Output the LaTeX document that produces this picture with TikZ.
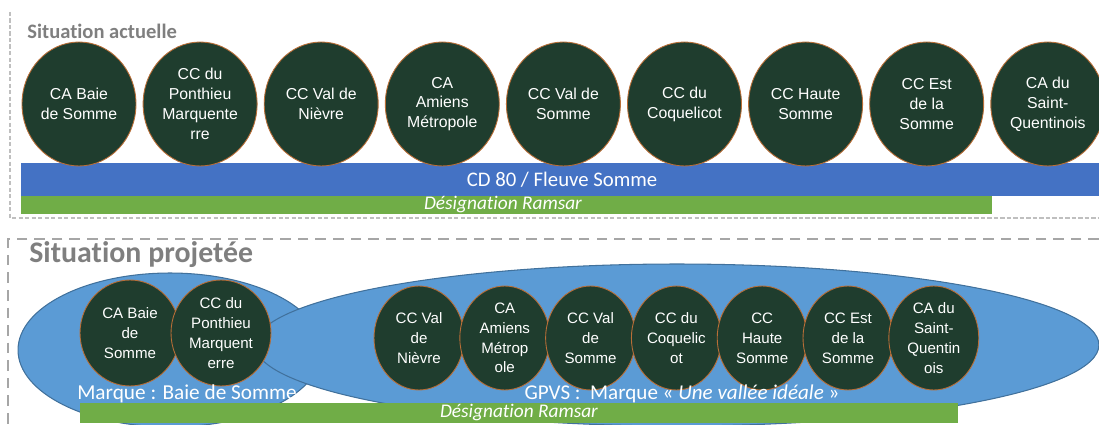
\documentclass[tikz,border=0pt]{standalone}
\usepackage{fontspec}
\setmainfont{Carlito}[Ligatures=NoCommon]
\newfontfamily\arialfont{Liberation Sans}
\usetikzlibrary{shapes.geometric}
\definecolor{forestdark}{RGB}{31,61,46}
\definecolor{rimbrown}{RGB}{185,110,55}
\definecolor{barblue}{RGB}{68,114,196}
\definecolor{bargreen}{RGB}{112,173,71}
\definecolor{zoneblue}{RGB}{91,155,213}
\definecolor{zoneedge}{RGB}{65,113,156}
\definecolor{titlegray}{RGB}{127,127,127}
\tikzset{
    % Circle styles
    town/.style={
        ellipse,
        draw=rimbrown,
        fill=forestdark,
        line width=0.5pt,
        inner sep=0pt,
        align=center,
        text=white
    },
    big town/.style={town, minimum width=2.28cm, minimum height=2.48cm,
        font=\arialfont\fontsize{9}{11.3}\selectfont},
    small town/.style={town, minimum width=2.0cm, minimum height=2.12cm,
        font=\arialfont\fontsize{8.6}{11.3}\selectfont},
    tiny town/.style={town, minimum width=1.8cm, minimum height=2.08cm,
        font=\arialfont\fontsize{8.6}{11.3}\selectfont},
    % Band and zone styles
    band/.style={inner sep=0pt, text=white},
    brand zone/.style={
        ellipse,
        draw=zoneedge,
        fill=zoneblue,
        line width=0.6pt
    },
    % Frame and title styles
    thin frame/.style={draw=gray!50, line width=0.6pt, dash pattern=on 2.5pt off 1.2pt},
    thick frame/.style={draw=gray!70, line width=1.6pt, dash pattern=on 6pt off 4pt},
    section title/.style={anchor=west, inner sep=0pt, text=titlegray}
}

\begin{document}
\begin{tikzpicture}[x=0.02cm, y=-0.02cm]
    \useasboundingbox (0,0) rectangle (1099,425);
    \clip (0,0) rectangle (1099,425);

    % current situation
    \draw[thin frame] (10,12) -- (10,218) -- (1099,218);
    \node[section title, font=\fontsize{11.7}{13}\selectfont\bfseries] (actuelle) at (27,31) {Situation actuelle};

    \fill[barblue] (21,163) rectangle (1099,196);
    \node[band, font=\fontsize{11.8}{13}\selectfont] (fleuve) at (562,180) {CD 80 / Fleuve Somme};
    \fill[bargreen] (21,196) rectangle (992,214);
    \node[band, font=\fontsize{11}{12}\itshape] (ramsar1) at (503,205) {Désignation Ramsar};

    \foreach \txt [count=\i] in {CA Baie\\de Somme, CC du\\Ponthieu\\Marquente\\rre,
        CC Val de\\Nièvre, CA\\Amiens\\Métropole, CC Val de\\Somme, CC du\\Coquelicot,
        CC Haute\\Somme, CC Est\\de la\\Somme, CA du\\Saint-\\Quentinois}
        \node[big town] (now\i) at ({79+121.1*(\i-1)},104) {\txt};

    % projected situation
    \draw[thick frame] (1099,239) -- (8,239) -- (8,425);
    \node[section title, font=\fontsize{17}{19}\selectfont\bfseries] (projetee) at (29,255) {Situation projetée};

    \node[brand zone, minimum width=6.08cm, minimum height=3.08cm] (baie) at (170,350) {};
    \node[brand zone, minimum width=16.88cm, minimum height=3.24cm] (gpvs) at (677,345) {};

    \node[small town] (next1) at (130,333) {CA Baie\\de\\Somme};
    \node[small town] (next2) at (221,333) {CC du\\Ponthieu\\Marquent\\erre};
    \foreach \txt [count=\i from 3] in {CC Val\\de\\Nièvre, CA\\Amiens\\Métrop\\ole,
        CC Val\\de\\Somme, CC du\\Coquelic\\ot, CC\\Haute\\Somme,
        CC Est\\de la\\Somme, CA du\\Saint-\\Quentin\\ois}
        \node[tiny town] (next\i) at ({419+85.8*(\i-3)},338) {\txt};

    \node[band, font=\fontsize{12.1}{13}\selectfont] (marquebaie) at (187,394) {Marque : Baie de Somme};
    \node[band, font=\fontsize{12}{13}\selectfont] (marquegpvs) at (682,394) {GPVS :\ \ Marque « \textit{Une vallée idéale} »};

    \fill[bargreen] (80,403) rectangle (958,423);
    \node[band, font=\fontsize{11}{12}\itshape] (ramsar2) at (519,413) {Désignation Ramsar};
\end{tikzpicture}
\end{document}
